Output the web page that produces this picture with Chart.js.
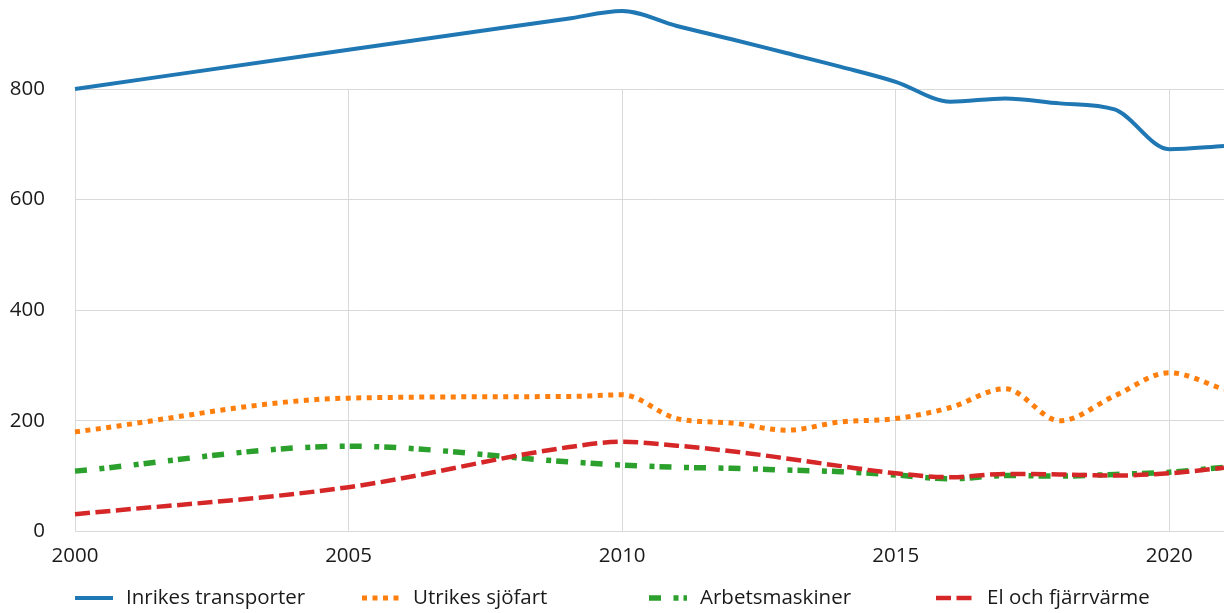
<!DOCTYPE html>
<html>
<head>
<meta charset="utf-8">
<script src="https://cdn.jsdelivr.net/npm/chart.js@4/dist/chart.umd.min.js"></script>
<style>
  html, body { margin: 0; padding: 0; background: #fff; }
  #wrap { width: 1224px; height: 613px; position: relative; }
</style>
</head>
<body>
<div id="wrap"><canvas id="myChart"></canvas></div>
<script>
// years with data
const years = [2000, 2005, 2009, 2010, 2011, 2012, 2013, 2014, 2015, 2016, 2017, 2018, 2019, 2020, 2021];

const inrikes = [800, 871, 927, 941, 914, 890, 865, 840, 813, 777, 783, 774, 763, 691, 697];
const utrikes = [180, 241, 244, 247, 204, 196, 183, 198, 204, 224, 258, 200, 245, 287, 257];
const arbets  = [109, 154, 126, 120, 116, 114, 111, 108, 102, 95, 101, 100, 103, 107, 116];
const elFjarr = [31, 80, 152, 162, 155, 145, 132, 118, 105, 98, 104, 103, 101, 105, 115];

const seriesNames = ['Inrikes transporter', 'Utrikes sjöfart', 'Arbetsmaskiner', 'El och fjärrvärme'];
const xTicks = [2000, 2005, 2010, 2015, 2020];
const yTicks = [0, 200, 400, 600, 800];

function toPoints(vals) {
    return vals.map((v, i) => ({ x: years[i], y: v }));
}

const FONT = "'Open Sans', 'Noto Sans', sans-serif";
const FSIZE = 20.5;
const gridColor = '#d9d9d9';

// legend drawn in fixed columns like the original
const colLegend = {
    id: 'colLegend',
    afterDraw(chart) {
        const ctx = chart.ctx;
        const left = chart.chartArea.left;
        const y = 598;
        ctx.save();
        chart.data.datasets.forEach((ds, i) => {
            const x0 = left + i * 287;
            ctx.beginPath();
            ctx.strokeStyle = ds.borderColor;
            ctx.lineWidth = ds.borderWidth;
            ctx.setLineDash(ds.borderDash || []);
            ctx.lineCap = 'butt';
            ctx.moveTo(x0, y);
            ctx.lineTo(x0 + 38, y);
            ctx.stroke();
            ctx.setLineDash([]);
            ctx.fillStyle = '#1a1a1a';
            ctx.font = FSIZE + 'px ' + FONT;
            ctx.textAlign = 'left';
            ctx.textBaseline = 'middle';
            ctx.fillText(ds.label, x0 + 51, y);
        });
        ctx.restore();
    }
};

const ctx = document.getElementById('myChart').getContext('2d');
const lineChart = new Chart(ctx, {
    type: 'line',
    data: {
        datasets: [{
            label: seriesNames[0],
            data: toPoints(inrikes),
            borderColor: '#1f77b4',
            borderWidth: 4,
            order: 3
        }, {
            label: seriesNames[1],
            data: toPoints(utrikes),
            borderColor: '#ff7f0e',
            borderWidth: 5,
            borderDash: [5, 5.5],
            order: 2
        }, {
            label: seriesNames[2],
            data: toPoints(arbets),
            borderColor: '#2ca02c',
            borderWidth: 5.5,
            borderDash: [12, 12.5, 5, 5],
            order: 1
        }, {
            label: seriesNames[3],
            data: toPoints(elFjarr),
            borderColor: '#d62728',
            borderWidth: 4.5,
            borderDash: [15, 5.5],
            order: 0
        }]
    },
    options: {
        responsive: true,
        maintainAspectRatio: false,
        animation: false,
        layout: { padding: { top: 89, right: 0, bottom: 33, left: 0 } },
        elements: {
            point: { radius: 0 },
            line: { cubicInterpolationMode: 'monotone', fill: false, borderCapStyle: 'butt' }
        },
        datasets: { line: { clip: false } },
        plugins: {
            legend: { display: false },
            tooltip: { enabled: false }
        },
        scales: {
            x: {
                type: 'linear',
                min: 2000,
                max: 2021,
                afterBuildTicks: s => { s.ticks = xTicks.map(v => ({ value: v })); },
                grid: { color: gridColor, lineWidth: 1, drawTicks: false },
                border: { display: false },
                ticks: {
                    padding: 12,
                    color: '#1a1a1a',
                    font: { family: FONT, size: FSIZE },
                    maxRotation: 0,
                    callback: v => String(v)
                }
            },
            y: {
                min: 0,
                max: 800,
                afterBuildTicks: s => { s.ticks = yTicks.map(v => ({ value: v })); },
                afterFit: s => { s.width = 75; },
                grid: { color: gridColor, lineWidth: 1, drawTicks: false },
                border: { display: false },
                ticks: {
                    padding: 30,
                    color: '#1a1a1a',
                    font: { family: FONT, size: FSIZE }
                }
            }
        }
    },
    plugins: [colLegend]
});
</script>
</body>
</html>
